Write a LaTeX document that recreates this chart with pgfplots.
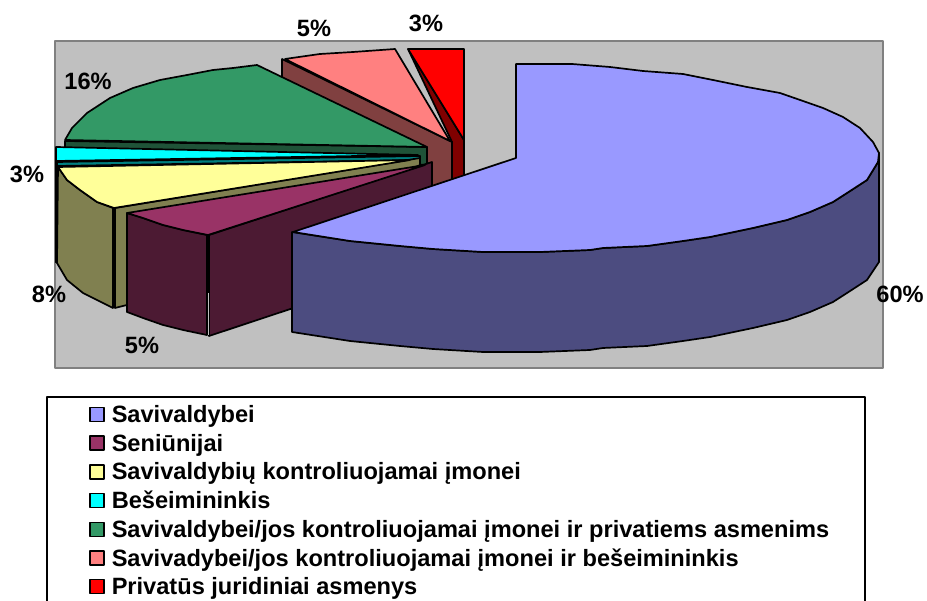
\documentclass[border=0pt]{standalone}
\usepackage{fontspec}
\setmainfont{Liberation Sans}
\usepackage{pgfplots}
\pgfplotsset{compat=1.18}

\definecolor{wall}{HTML}{C0C0C0}
\definecolor{walledge}{HTML}{808080}
\definecolor{bluetop}{HTML}{9999FF}
\definecolor{blueside}{HTML}{4C4C80}
\definecolor{plumtop}{HTML}{993366}
\definecolor{plumside}{HTML}{4C1A33}
\definecolor{yellowtop}{HTML}{FFFF99}
\definecolor{yellowside}{HTML}{808050}
\definecolor{cyantop}{HTML}{00FFFF}
\definecolor{cyanside}{HTML}{008080}
\definecolor{greentop}{HTML}{339966}
\definecolor{greenside}{HTML}{1F5338}
\definecolor{pinktop}{HTML}{FF8080}
\definecolor{pinkside}{HTML}{804040}
\definecolor{redtop}{HTML}{FF0000}
\definecolor{redside}{HTML}{800000}

\newcommand{\lab}{\fontsize{23.6}{27}\selectfont\bfseries}

\begin{document}
\begin{tikzpicture}
\path[use as bounding box] (0pt,0pt) rectangle (927pt,601pt);
\begin{axis}[
    at={(0pt,0pt)}, anchor=south west,
    scale only axis,
    width=927pt, height=601pt,
    xmin=0, xmax=927,
    ymin=0, ymax=601,
    y dir=reverse,
    hide axis,
    every axis plot/.append style={line width=1.7pt, line join=round, draw=black},
    legend image code/.code={
        \path[draw=none, fill=none] (0pt,0pt) -- (22pt,0pt);
        \draw[#1, line width=1.5pt] (0pt,-5pt) rectangle (14pt,9pt);
    },
    legend cell align=left,
    legend style={
        at={(axis cs:89,405.5)}, anchor=north west,
        draw=none, fill=none, inner sep=0pt, outer sep=0pt,
        font=\lab, row sep=6.7pt,
        nodes={inner sep=0pt, text height=17pt, text depth=5pt},
    },
]
% legend order, the slices are painted back to front below
\addlegendimage{fill=bluetop, draw=black}
\addlegendentry{Savivaldybei}
\addlegendimage{fill=plumtop, draw=black}
\addlegendentry{Seniūnijai}
\addlegendimage{fill=yellowtop, draw=black}
\addlegendentry{Savivaldybių kontroliuojamai įmonei}
\addlegendimage{fill=cyantop, draw=black}
\addlegendentry{Bešeimininkis}
\addlegendimage{fill=greentop, draw=black}
\addlegendentry{Savivaldybei/jos kontroliuojamai įmonei ir privatiems asmenims}
\addlegendimage{fill=pinktop, draw=black}
\addlegendentry{Savivadybei/jos kontroliuojamai įmonei ir bešeimininkis}
\addlegendimage{fill=redtop, draw=black}
\addlegendentry{Privatūs juridiniai asmenys}

% plot area and legend frame
\addplot[forget plot, fill=wall, draw=walledge] coordinates {(55,41) (883,41) (883,368) (55,368)} --cycle;
\addplot[forget plot, fill=none] coordinates {(47,601) (47,397) (865,397) (865,601)};

% red, 3%
\addplot[forget plot, fill=redside] coordinates {(408,49) (464,140) (464,195) (452,195) (452,142)} --cycle;
\addplot[forget plot, fill=redtop] coordinates {(408,49) (464,49) (464,140)} --cycle;

% pink, 5%
\addplot[forget plot, fill=pinkside] coordinates {(282,59) (452,142) (452,195) (430,195) (282,100)} --cycle;
\addplot[forget plot, fill=pinktop] coordinates {(285,59) (320,54) (353,52) (395,49) (450,141)} --cycle;

% green, 16%
\addplot[forget plot, fill=greenside] coordinates {(65,141) (427,147) (427,165) (65,150)} --cycle;
\addplot[forget plot, fill=greentop] coordinates {(65,140) (72,128) (87,113) (110,98) (133,88) (160,80) (187,75) (213,70) (233,68) (257,65) (427,147)} --cycle;

% cyan, 3%
\addplot[forget plot, fill=black, line width=0.4pt] coordinates {(55,161) (57,161) (57,262) (55,262)} --cycle;
\addplot[forget plot, fill=cyanside] coordinates {(57,162) (420,156) (420,160) (57,166)} --cycle;
\addplot[forget plot, fill=cyantop] coordinates {(56,147) (418,155) (56,161)} --cycle;

% yellow, 8%
\addplot[forget plot, fill=yellowside] coordinates {(115,208) (420,158) (420,165) (127,305) (115,308)} --cycle;
\addplot[forget plot, fill=yellowside] coordinates {(58,167) (67,180) (80,190) (97,202) (113,208) (113,308) (83,293) (67,280) (57,263)} --cycle;
\addplot[forget plot, fill=yellowtop] coordinates {(58,167) (67,180) (80,190) (97,202) (114,208) (410,160)} --cycle;

% plum, 5%
\addplot[forget plot, fill=plumside] coordinates {(209,235) (432,162) (432,262) (209,336)} --cycle;
\addplot[forget plot, fill=plumside] coordinates {(127,213) (143,218) (163,225) (183,230) (207,235) (207,335) (183,330) (163,325) (143,318) (127,312)} --cycle;
\addplot[forget plot, fill=plumtop] coordinates {(127,213) (143,218) (163,225) (183,230) (208,235) (425,165)} --cycle;
\addplot[forget plot, draw=wall, line width=0.8pt] coordinates {(208,293) (208,335)};

% blue, 60%
\addplot[forget plot, fill=blueside] coordinates {(879,153) (878,162) (867,180) (847,193) (833,202) (810,212) (787,220) (753,228) (710,237) (683,241) (647,246) (603,248) (590,250) (540,252) (483,252) (433,249) (400,246) (350,241) (292,232) (292,332) (350,341) (400,346) (433,349) (483,352) (540,352) (590,350) (603,348) (647,346) (683,341) (710,337) (753,328) (787,320) (810,312) (833,302) (847,293) (867,280) (879,262)} --cycle;
\addplot[forget plot, fill=bluetop] coordinates {(516,158) (516,64) (572,64) (610,67) (643,71) (683,74) (713,80) (747,87) (780,93) (803,101) (823,108) (843,117) (860,128) (873,142) (879,153) (878,162) (867,180) (847,193) (833,202) (810,212) (787,220) (753,228) (710,237) (683,241) (647,246) (603,248) (590,250) (540,252) (483,252) (433,249) (400,246) (350,241) (293,232)} --cycle;

% data labels
\node[font=\lab] at (axis cs:900,294) {60\%};
\node[font=\lab] at (axis cs:142,345) {5\%};
\node[font=\lab] at (axis cs:49,294) {8\%};
\node[font=\lab] at (axis cs:27,174) {3\%};
\node[font=\lab] at (axis cs:88,81) {16\%};
\node[font=\lab] at (axis cs:314,28) {5\%};
\node[font=\lab] at (axis cs:426,23) {3\%};
\end{axis}
\end{tikzpicture}
\end{document}
